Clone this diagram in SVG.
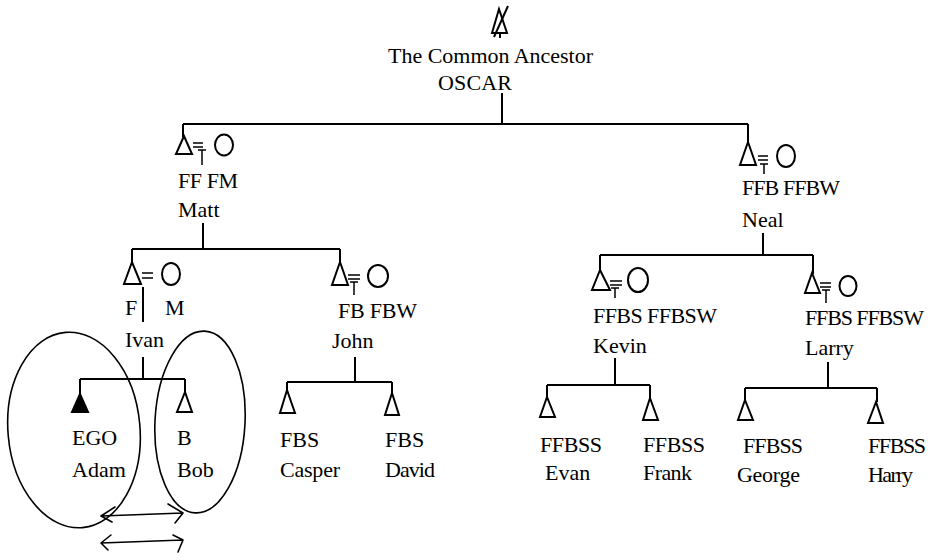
<svg xmlns="http://www.w3.org/2000/svg" width="931" height="560" viewBox="0 0 931 560">
<style>
text{font-family:"Liberation Serif","Times New Roman",serif;font-size:22px;fill:#000}
.l{stroke:#000;stroke-width:2;fill:none}
.e{stroke:#000;stroke-width:1.5;fill:none}
.t{stroke:#000;stroke-width:2;fill:#fff;stroke-linejoin:miter}
.f{stroke:#000;stroke-width:2;fill:#000}
.c{stroke:#000;stroke-width:2;fill:none}
.h{stroke:#000;stroke-width:1.6;fill:none;stroke-linecap:round}
</style>
<rect width="931" height="560" fill="#fff"/>
<g id="connectors">
<path class="l" d="M502 93V124M183 124H748M183 124V137M748 124V143"/>
<path class="l" d="M203 223V249M132 249H340M132 249V263M340 249V263"/>
<path class="l" d="M763 233V255M600 255H813M600 255V271M813 255V274"/>
<path class="l" d="M143 357V379M80 379H185M80 379V394M185 379V392"/>
<path class="l" d="M355 357V382M287 382H392M287 382V390M392 382V393"/>
<path class="l" d="M615 358V385M547 385H650M547 385V397M650 385V398"/>
<path class="l" d="M828 362V388M745 388H877M745 388V400M877 388V402"/>
</g>
<g id="oscar">
<path class="l" d="M492 33L499 9L507 33Z"/>
<path class="l" d="M494 37L508 6M500 33V38"/>
<text x="388" y="63" textLength="205">The Common Ancestor</text>
<text x="438" y="90" textLength="74">OSCAR</text>
</g>
<g id="matt">
<polygon class="t" points="184,136 176,154 192,154"/>
<path class="e" d="M193 143H203M193 147H203M198 150H206M202 150V165"/>
<ellipse class="c" cx="224" cy="145" rx="9" ry="10.5"/>
<text x="178" y="188" textLength="60">FF FM</text>
<text x="178" y="217">Matt</text>
</g>
<g id="neal">
<polygon class="t" points="748,142 740,165 756,165"/>
<path class="e" d="M758 156H768M758 160H768M760 164H768M764 164V174"/>
<ellipse class="c" cx="786" cy="156" rx="9" ry="11"/>
<text x="742" y="195" textLength="98">FFB FFBW</text>
<text x="742" y="227">Neal</text>
</g>
<g id="ivan">
<polygon class="t" points="132,262 124,284 141,284"/>
<path class="e" d="M142 273H153M142 278H153"/>
<path class="l" d="M143 287V322"/>
<ellipse class="c" cx="171" cy="274" rx="9" ry="11"/>
<text x="125" y="315">F</text>
<text x="165" y="315">M</text>
<text x="125" y="347">Ivan</text>
</g>
<g id="john">
<polygon class="t" points="340,262 332,285 348,285"/>
<path class="e" d="M348 275H360M348 279H360M350 282H358M354 282V295"/>
<ellipse class="c" cx="378" cy="276" rx="10" ry="11"/>
<text x="338" y="318" textLength="79">FB FBW</text>
<text x="332" y="348">John</text>
</g>
<g id="kevin">
<polygon class="t" points="600,270 592,290 610,290"/>
<path class="e" d="M610 281H622M610 285H622M611 288H619M615 288V298"/>
<ellipse class="c" cx="638" cy="280" rx="10" ry="12"/>
<text x="593" y="323" textLength="124">FFBS FFBSW</text>
<text x="593" y="353">Kevin</text>
</g>
<g id="larry">
<polygon class="t" points="812,273 805,293 820,293"/>
<path class="e" d="M820 283H831M820 287H831M822 290H830M826 290V303"/>
<ellipse class="c" cx="848" cy="286" rx="8.5" ry="10"/>
<text x="805" y="325" textLength="119">FFBS FFBSW</text>
<text x="805" y="355">Larry</text>
</g>
<g id="adam">
<polygon class="f" points="80,394 72,412 88,412"/>
<text x="72" y="445">EGO</text>
<text x="72" y="477">Adam</text>
</g>
<g id="bob">
<polygon class="t" points="185,392 177,412 192,412"/>
<text x="177" y="445">B</text>
<text x="177" y="477">Bob</text>
</g>
<g id="casper">
<polygon class="t" points="287,390 280,413 295,413"/>
<text x="280" y="447">FBS</text>
<text x="280" y="477" textLength="60">Casper</text>
</g>
<g id="david">
<polygon class="t" points="392,393 385,415 399,415"/>
<text x="385" y="447">FBS</text>
<text x="385" y="477" textLength="50">David</text>
</g>
<g id="evan">
<polygon class="t" points="547,397 540,417 555,417"/>
<text x="540" y="452" textLength="62">FFBSS</text>
<text x="545" y="480">Evan</text>
</g>
<g id="frank">
<polygon class="t" points="650,398 643,420 658,420"/>
<text x="643" y="452" textLength="62">FFBSS</text>
<text x="643" y="480" textLength="49">Frank</text>
</g>
<g id="george">
<polygon class="t" points="745,400 738,420 753,420"/>
<text x="743" y="453" textLength="60">FFBSS</text>
<text x="737" y="482" textLength="63">George</text>
</g>
<g id="harry">
<polygon class="t" points="876,402 868,423 883,423"/>
<text x="868" y="453" textLength="58">FFBSS</text>
<text x="868" y="482" textLength="45">Harry</text>
</g>
<g id="circles">
<ellipse class="h" cx="74" cy="430" rx="66" ry="98" transform="rotate(-5 74 430)"/>
<ellipse class="h" cx="200" cy="422" rx="45" ry="91" transform="rotate(3 200 422)"/>
</g>
<g id="arrows">
<path class="h" d="M101 516L183 513M101 516L115 507M101 516L112 522M183 513L168 504M183 513L175 523"/>
<path class="h" d="M101 543L183 540M101 543L111 535M101 543L108 550M183 540L173 535M183 540L178 552"/>
</g>
</svg>
